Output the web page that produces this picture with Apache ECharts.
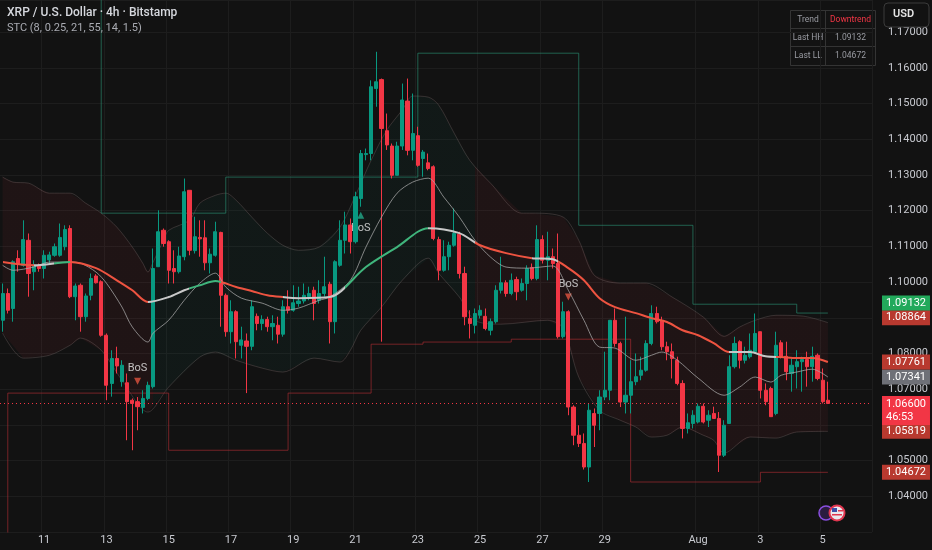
<!DOCTYPE html>
<html>
<head>
<meta charset="utf-8">
<script src="https://cdn.jsdelivr.net/npm/echarts@6/dist/echarts.min.js"></script>
<style>
  html, body { margin: 0; padding: 0; background: #121212; }
  #chart { width: 932px; height: 550px; }
</style>
</head>
<body>
<div id="chart"></div>
<script>
// XRP / USD, 4h candles, Jul 9 16:00 -> Aug 5 04:00
// rows: [open, high, low, close]
var candles = [
  [1.0893,1.0996,1.0861,1.0968],[1.0968,1.0982,1.0912,1.0921],[1.0926,1.1061,1.0889,1.1057],[1.1066,1.1089,1.1029,1.1052],
  [1.1047,1.1173,1.1043,1.1119],[1.1117,1.1136,1.0959,1.1024],[1.1029,1.1061,1.0977,1.1045],[1.1047,1.1052,1.1029,1.1038],
  [1.1038,1.1089,1.1010,1.1075],[1.1062,1.1085,1.1052,1.1076],[1.1075,1.1108,1.1071,1.1099],[1.1075,1.1164,1.1071,1.1125],
  [1.1099,1.1159,1.1089,1.1147],[1.1150,1.1159,1.0955,1.0959],[1.0959,1.0996,1.0893,1.0989],[1.0991,1.0996,1.0861,1.0903],
  [1.0903,1.0968,1.0889,1.0961],[1.0963,1.1024,1.0949,1.1010],[1.1017,1.1022,1.0996,1.0998],[1.1001,1.1005,1.0847,1.0851],
  [1.0851,1.0856,1.0669,1.0711],[1.0716,1.0809,1.0679,1.0786],[1.0786,1.0819,1.0744,1.0765],[1.0721,1.0781,1.0707,1.0767],
  [1.0718,1.0744,1.0557,1.0665],[1.0669,1.0674,1.0529,1.0660],[1.0665,1.0678,1.0585,1.0651],[1.0649,1.0697,1.0632,1.0674],
  [1.0674,1.0721,1.0669,1.0711],[1.0707,1.1094,1.0702,1.1038],[1.1043,1.1201,1.1043,1.1141],[1.1145,1.1150,1.1099,1.1108],
  [1.1113,1.1117,1.0996,1.1033],[1.1038,1.1089,1.0996,1.1029],[1.1029,1.1099,1.1024,1.1073],[1.1071,1.1290,1.1061,1.1253],
  [1.1257,1.1257,1.1075,1.1089],[1.1088,1.1183,1.1080,1.1127],[1.1125,1.1173,1.1071,1.1121],[1.1124,1.1173,1.1033,1.1054],
  [1.1054,1.1094,1.1024,1.1078],[1.1075,1.1169,1.1071,1.1141],[1.1139,1.1141,1.0875,1.0963],[1.0963,1.0968,1.0847,1.0861],
  [1.0861,1.0949,1.0828,1.0917],[1.0917,1.0921,1.0786,1.0833],[1.0823,1.0875,1.0786,1.0838],[1.0835,1.0856,1.0689,1.0820],
  [1.0820,1.0949,1.0809,1.0931],[1.0904,1.0912,1.0865,1.0884],[1.0884,1.0907,1.0865,1.0895],[1.0895,1.0903,1.0861,1.0875],
  [1.0875,1.0907,1.0837,1.0884],[1.0879,1.0903,1.0828,1.0854],[1.0854,1.0949,1.0847,1.0931],[1.0931,1.0977,1.0912,1.0921],
  [1.0921,1.0991,1.0917,1.0942],[1.0940,1.0987,1.0931,1.0947],[1.0947,1.0996,1.0940,1.0963],[1.0959,1.0987,1.0949,1.0968],
  [1.0977,1.0987,1.0893,1.0940],[1.0949,1.1005,1.0940,1.0968],[1.0968,1.1071,1.0959,1.0987],[1.0994,1.1001,1.0828,1.0889],
  [1.0889,1.1061,1.0856,1.1057],[1.1047,1.1173,1.1043,1.1117],[1.1117,1.1197,1.1080,1.1160],[1.1160,1.1178,1.1080,1.1113],
  [1.1113,1.1253,1.1108,1.1239],[1.1234,1.1370,1.1211,1.1360],[1.1357,1.1374,1.1341,1.1360],[1.1360,1.1565,1.1341,1.1547],
  [1.1542,1.1645,1.1491,1.1561],[1.1567,1.1570,1.0833,1.1430],[1.1424,1.1472,1.1370,1.1384],[1.1381,1.1388,1.1290,1.1299],
  [1.1299,1.1393,1.1299,1.1381],[1.1381,1.1556,1.1370,1.1510],[1.1507,1.1570,1.1355,1.1369],[1.1369,1.1528,1.1341,1.1416],
  [1.1410,1.1435,1.1323,1.1327],[1.1346,1.1370,1.1295,1.1364],[1.1334,1.1360,1.1313,1.1318],[1.1323,1.1327,1.1117,1.1122],
  [1.1119,1.1127,1.1005,1.1033],[1.1033,1.1117,1.1029,1.1071],[1.1071,1.1113,1.1033,1.1103],[1.1103,1.1206,1.1099,1.1136],
  [1.1134,1.1141,1.1010,1.1024],[1.1024,1.1043,1.0879,1.0903],[1.0898,1.0921,1.0842,1.0884],[1.0879,1.0926,1.0856,1.0912],
  [1.0907,1.0935,1.0898,1.0921],[1.0904,1.0926,1.0865,1.0870],[1.0865,1.0898,1.0851,1.0889],[1.0889,1.0991,1.0884,1.0977],
  [1.0977,1.1071,1.0968,1.0998],[1.0998,1.1005,1.0959,1.0968],[1.0968,1.1024,1.0963,1.1005],[1.1007,1.1015,1.0949,1.0973],
  [1.0977,1.1010,1.0973,1.0996],[1.0996,1.1047,1.0949,1.1038],[1.1041,1.1052,1.1005,1.1010],[1.1010,1.1159,1.1005,1.1119],
  [1.1119,1.1131,1.1052,1.1061],[1.1061,1.1141,1.1005,1.1071],[1.1071,1.1094,1.1038,1.1052],[1.1052,1.1136,1.0842,1.0847],
  [1.0847,1.0945,1.0842,1.0917],[1.0917,1.0921,1.0627,1.0650],[1.0650,1.0655,1.0543,1.0571],[1.0571,1.0599,1.0538,1.0548],
  [1.0548,1.0576,1.0475,1.0482],[1.0482,1.0660,1.0440,1.0641],[1.0632,1.0646,1.0538,1.0599],[1.0632,1.0697,1.0585,1.0678],
  [1.0678,1.0805,1.0669,1.0697],[1.0697,1.0893,1.0669,1.0893],[1.0893,1.0926,1.0819,1.0828],[1.0828,1.0833,1.0650,1.0664],
  [1.0664,1.0903,1.0632,1.0683],[1.0683,1.0781,1.0632,1.0721],[1.0721,1.0800,1.0711,1.0735],[1.0739,1.0791,1.0725,1.0753],
  [1.0753,1.0837,1.0749,1.0828],[1.0828,1.0935,1.0823,1.0912],[1.0912,1.0931,1.0884,1.0889],[1.0891,1.0903,1.0809,1.0819],
  [1.0819,1.0833,1.0781,1.0805],[1.0805,1.0828,1.0730,1.0786],[1.0781,1.0791,1.0711,1.0716],[1.0716,1.0725,1.0562,1.0590],
  [1.0590,1.0632,1.0576,1.0606],[1.0604,1.0641,1.0590,1.0627],[1.0608,1.0660,1.0604,1.0652],[1.0652,1.0660,1.0604,1.0608],
  [1.0613,1.0641,1.0594,1.0627],[1.0632,1.0651,1.0618,1.0618],[1.0618,1.0636,1.0468,1.0515],[1.0515,1.0613,1.0510,1.0599],
  [1.0604,1.0795,1.0604,1.0763],[1.0763,1.0847,1.0758,1.0828],[1.0833,1.0837,1.0758,1.0781],[1.0781,1.0819,1.0772,1.0795],
  [1.0791,1.0856,1.0786,1.0809],[1.0805,1.0912,1.0800,1.0856],[1.0861,1.0861,1.0674,1.0697],[1.0697,1.0716,1.0655,1.0665],
  [1.0702,1.0707,1.0623,1.0623],[1.0632,1.0861,1.0627,1.0823],[1.0830,1.0837,1.0786,1.0791],[1.0792,1.0833,1.0725,1.0749],
  [1.0744,1.0786,1.0693,1.0767],[1.0763,1.0809,1.0702,1.0777],[1.0777,1.0791,1.0693,1.0783],[1.0783,1.0805,1.0707,1.0763],
  [1.0763,1.0819,1.0721,1.0792],[1.0795,1.0800,1.0725,1.0730],[1.0725,1.0758,1.0660,1.0665],[1.0669,1.0721,1.0660,1.06600]
];

// indicator lines, read at sample candles: [candle index, price]
var slowMa = [[0,1.1056],[6,1.1047],[13,1.1056],[18,1.1039],[22,1.1005],[25,1.0977],[28,1.0944],[32,1.0958],[35,1.0977],
  [38,1.0991],[41,1.1003],[45,1.0986],[48,1.0975],[51,1.0963],[54,1.0958],[57,1.0955],[63,1.0958],[70,1.1042],[76,1.1098],
  [82,1.1151],[88,1.1137],[92,1.1103],[97,1.1081],[102,1.1067],[106,1.1064],[109,1.1039],[112,1.1005],[115,1.0955],
  [118,1.0930],[122,1.0913],[125,1.0899],[128,1.0888],[131,1.0865],[134,1.0851],[137,1.0829],[140,1.0804],[144,1.0804],
  [147,1.0792],[150,1.0790],[153,1.0787],[156,1.0787],[159,1.07761]];
var fastMa = [[0,1.1047],[2,1.1033],[6,1.1042],[9,1.1056],[13,1.1056],[15,1.1053],[18,1.1028],[20,1.0997],[23,1.0930],
  [25,1.0874],[28,1.0832],[29,1.0857],[32,1.0893],[35,1.0949],[38,1.0997],[41,1.1025],[43,1.0986],[46,1.0955],[50,1.0941],
  [54,1.0921],[57,1.0927],[61,1.0949],[63,1.0958],[67,1.1005],[70,1.1098],[73,1.1182],[76,1.1249],[79,1.1280],[82,1.1291],
  [85,1.1238],[88,1.1182],[91,1.1117],[94,1.1070],[97,1.1042],[101,1.1039],[106,1.1045],[109,1.0977],[112,1.0893],
  [115,1.0818],[118,1.0815],[122,1.0781],[125,1.0795],[127,1.0804],[130,1.0781],[134,1.0731],[139,1.0683],[142,1.0706],
  [145,1.0734],[148,1.0720],[150,1.0739],[153,1.0748],[156,1.0756],[159,1.07341]];
var upperBand = [[0,1.1294],[2,1.1280],[5,1.1277],[9,1.1249],[13,1.1249],[16,1.1221],[19,1.1193],[22,1.1154],[25,1.1098],
  [27,1.1053],[28,1.1028],[29,1.1056],[31,1.1117],[32,1.1145],[36,1.1173],[38,1.1221],[41,1.1243],[43,1.1249],[45,1.1229],
  [48,1.1182],[51,1.1137],[54,1.1103],[57,1.1089],[61,1.1098],[65,1.1154],[68,1.1243],[71,1.1341],[74,1.1425],[77,1.1482],
  [79,1.1521],[82,1.1518],[84,1.1496],[87,1.1417],[90,1.1341],[94,1.1277],[100,1.1193],[102,1.1193],[108,1.1182],
  [111,1.1117],[114,1.1019],[119,1.0997],[124,1.0997],[129,1.0958],[135,1.0902],[139,1.0848],[142,1.0874],[145,1.0893],
  [149,1.0907],[154,1.0905],[159,1.08864]];
var lowerBand = [[0,1.0857],[4,1.0787],[9,1.0795],[13,1.0823],[15,1.0843],[19,1.0809],[23,1.0725],[28,1.0636],[32,1.0706],
  [38,1.0790],[41,1.0804],[45,1.0781],[50,1.0759],[54,1.0748],[60,1.0787],[65,1.0776],[67,1.0809],[69,1.0865],[73,1.0930],
  [77,1.1005],[82,1.1067],[84,1.1025],[88,1.0958],[91,1.0893],[96,1.0882],[105,1.0893],[108,1.0871],[111,1.0734],
  [115,1.0641],[119,1.0613],[122,1.0594],[125,1.0566],[128,1.0571],[131,1.0594],[135,1.0571],[137,1.0557],[139,1.0521],
  [144,1.0566],[149,1.0563],[153,1.0580],[159,1.05819]];
// swing levels (step lines)
var lastHH = [[0,1.1900],[19,1.1193],[43,1.1294],[80,1.1641],[111,1.1159],[133,1.0938],[153,1.09132],[159,1.09132]];
var lastLL = [[0,1.0200],[1,1.0689],[32,1.0529],[55,1.0689],[71,1.0826],[81,1.0832],[98,1.0840],[121,1.0440],[146,1.04672],[159,1.04672]];
var bosDown = [[26,1.0722],[109,1.0958]];
var bosUp = [[69,1.1187]];
// trend colouring of the slow line: [from, to, state]
var trendRuns = [[0,6,'down'],[6,10,'flat'],[10,13,'up'],[13,28,'down'],[28,36,'flat'],[36,42,'up'],[42,54,'down'],
  [54,66,'flat'],[66,82,'up'],[82,91,'flat'],[91,102,'down'],[102,107,'flat'],[107,140,'down'],[140,149,'flat'],[149,160,'down']];
var bandRuns = [[0,28.5,'down'],[28.5,90.5,'up'],[90.5,159,'down']];

var tickIdx = [8,20,32,44,56,68,80,92,104,116,134,146,158];
var tickText = ['11','13','15','17','19','21','23','25','27','29','Aug','3','5'];
var slotCount = 168;
var countdown = '46:53';

var RED = '#f23645', GREEN = '#089981';
var FONT = 'Roboto, "Noto Sans", sans-serif';

var cats = [];
for (var i = 0; i < slotCount; i++) cats.push('');
tickIdx.forEach(function (k, j) { cats[k] = tickText[j]; });

var kData = candles.map(function (c) { return [c[0], c[3], c[2], c[1]]; });
var lastClose = candles[candles.length - 1][3];
function last(arr) { return arr[arr.length - 1][1]; }

var trendColor = { down: '#ee5340', up: '#3fb57c', flat: '#c8c8c8' };
var bandColor = { down: 'rgba(242,54,69,0.06)', up: 'rgba(8,153,129,0.05)' };

function isTick(index) { return tickIdx.indexOf(index) >= 0; }

function priceTag(value, bg, dy) {
    return {
        silent: true,
        precision: 5,
        symbol: ['none', 'none'],
        lineStyle: { color: 'rgba(0,0,0,0)', width: 1, type: 'solid' },
        label: {
            show: true, position: 'end', distance: 10,
            formatter: value.toFixed(5),
            backgroundColor: bg, color: '#ffffff', padding: [2, 4, 1, 4],
            fontSize: 11, fontFamily: FONT, lineHeight: 12, offset: [0, dy]
        },
        emphasis: { disabled: true },
        data: [{ yAxis: value }]
    };
}

function renderBandFill(params, api) {
    var pts = upperBand.map(function (d) { return api.coord(d); });
    var low = lowerBand.map(function (d) { return api.coord(d); }).reverse();
    var x0 = api.coord([0, 1.1])[0];
    var x1 = api.coord([159, 1.1])[0];
    var stops = [];
    bandRuns.forEach(function (r) {
        var a = (api.coord([r[0], 1.1])[0] - x0) / (x1 - x0);
        var b = (api.coord([r[1], 1.1])[0] - x0) / (x1 - x0);
        stops.push({ offset: Math.max(0, a), color: bandColor[r[2]] });
        stops.push({ offset: Math.min(1, b), color: bandColor[r[2]] });
    });
    return {
        type: 'polygon',
        shape: { points: pts.concat(low) },
        style: { fill: new echarts.graphic.LinearGradient(x0, 0, x1, 0, stops, true) }
    };
}

var chart = echarts.init(document.getElementById('chart'));

var option = {
    backgroundColor: '#121212',
    animation: false,
    textStyle: { fontFamily: FONT },
    grid: { left: 0, right: 60, top: 0, bottom: 18 },
    xAxis: {
        type: 'category',
        data: cats,
        boundaryGap: true,
        axisLine: { show: false },
        axisTick: { show: false },
        axisLabel: { interval: isTick, color: '#c8cad0', fontSize: 11, margin: 3, fontFamily: FONT },
        splitLine: { show: true, interval: isTick, lineStyle: { color: '#1d1d1d', width: 1 } }
    },
    yAxis: {
        type: 'value',
        position: 'right',
        min: 1.03,
        max: 1.179,
        interval: 0.01,
        axisLine: { show: false },
        axisTick: { show: false },
        axisLabel: {
            color: '#c8cad0', fontSize: 11, margin: 16, fontFamily: FONT,
            showMinLabel: false, showMaxLabel: false,
            formatter: function (v) { return v.toFixed(5); }
        },
        splitLine: { lineStyle: { color: '#1d1d1d', width: 1 } }
    },
    visualMap: {
        type: 'piecewise',
        show: false,
        dimension: 0,
        seriesIndex: 9,
        pieces: trendRuns.map(function (r) {
            return { gte: r[0], lt: r[1], color: trendColor[r[2]] };
        })
    },
    series: [
        {
            type: 'custom', z: 1, silent: true, clip: true,
            renderItem: renderBandFill,
            data: [[0, 1.1]]
        },
        {
            type: 'line', z: 1, data: upperBand, symbol: 'none', smooth: 0.3, silent: true,
            lineStyle: { color: 'rgba(150,130,130,0.28)', width: 1 },
            markLine: priceTag(last(upperBand), '#b8392f', -5)
        },
        {
            type: 'line', z: 1, data: lowerBand, symbol: 'none', smooth: 0.3, silent: true,
            lineStyle: { color: 'rgba(150,130,130,0.28)', width: 1 },
            markLine: priceTag(last(lowerBand), '#b8392f', 0)
        },
        {
            type: 'line', z: 2, data: lastHH, step: 'end', symbol: 'none', silent: true,
            lineStyle: { color: 'rgba(44,150,120,0.6)', width: 1 },
            markLine: priceTag(last(lastHH), '#22a95b', -10)
        },
        {
            type: 'line', z: 2, data: lastLL, step: 'end', symbol: 'none', silent: true,
            lineStyle: { color: 'rgba(170,45,50,0.65)', width: 1 },
            markLine: priceTag(last(lastLL), '#b8392f', 0)
        },
        {
            type: 'scatter', z: 2, data: bosDown, symbol: 'triangle', symbolRotate: 180, symbolSize: 7,
            itemStyle: { color: '#e0523f' }, silent: true,
            label: { show: true, formatter: 'BoS', position: 'top', distance: 4, color: '#e8e8e8', fontSize: 11 }
        },
        {
            type: 'scatter', z: 2, data: bosUp, symbol: 'triangle', symbolSize: 7,
            itemStyle: { color: '#22a98a' }, silent: true,
            label: { show: true, formatter: 'BoS', position: 'bottom', distance: 4, color: '#e8e8e8', fontSize: 11 }
        },
        {
            type: 'candlestick', z: 3,
            data: kData,
            barWidth: 3.6,
            itemStyle: { color: GREEN, color0: RED, borderColor: GREEN, borderColor0: RED, borderWidth: 1 },
            markLine: {
                silent: true,
                precision: 5,
                symbol: ['none', 'none'],
                lineStyle: { color: RED, type: [1, 3], width: 1 },
                label: {
                    show: true, position: 'end', distance: 10,
                    formatter: lastClose.toFixed(5) + '\n' + countdown,
                    backgroundColor: RED, color: '#fff', padding: [2, 4, 1, 4],
                    fontSize: 11, lineHeight: 13, fontFamily: FONT, offset: [0, 7]
                },
                data: [{ yAxis: lastClose }]
            }
        },
        {
            type: 'line', z: 4, data: fastMa, symbol: 'none', smooth: 0.3, silent: true,
            lineStyle: { color: 'rgba(170,170,170,0.75)', width: 1 },
            markLine: priceTag(last(fastMa), '#6e7077', 0)
        },
        {
            type: 'line', z: 5, data: slowMa, symbol: 'none', smooth: 0.3, silent: true,
            lineStyle: { width: 2 },
            markLine: priceTag(last(slowMa), '#b8392f', 0)
        }
    ],
    graphic: [
        { type: 'text', left: 7, top: 7, z: 10,
          style: { text: 'XRP / U.S. Dollar \u00b7 4h \u00b7 Bitstamp', fill: '#d6d8de', font: '500 12px ' + FONT } },
        { type: 'text', left: 7, top: 23, z: 10,
          style: { text: 'STC (8, 0.25, 21, 55, 14, 1.5)', fill: '#a9abb2', font: '11px ' + FONT } },
        { type: 'rect', z: 10, shape: { x: 884, y: 3, width: 45, height: 24, r: 4 },
          style: { fill: '#121212', stroke: '#3a3a3a', lineWidth: 1 } },
        { type: 'text', z: 11, left: 893, top: 9,
          style: { text: 'USD', fill: '#e6e6e6', font: '600 11px ' + FONT } },
        {
            type: 'group', z: 10, left: 788, top: 8,
            children: [
                { type: 'rect', shape: { x: 0, y: 0, width: 85, height: 55 },
                  style: { fill: '#131313', stroke: '#343434', lineWidth: 1 } },
                { type: 'line', shape: { x1: 35, y1: 0, x2: 35, y2: 55 }, style: { stroke: '#343434' } },
                { type: 'line', shape: { x1: 0, y1: 18, x2: 85, y2: 18 }, style: { stroke: '#343434' } },
                { type: 'line', shape: { x1: 0, y1: 36, x2: 85, y2: 36 }, style: { stroke: '#343434' } },
                { type: 'text', x: 17.5, y: 9, style: { text: 'Trend', fill: '#9a9ca3', font: '8.5px ' + FONT, align: 'center', verticalAlign: 'middle' } },
                { type: 'text', x: 60, y: 9, style: { text: 'Downtrend', fill: RED, font: '8.5px ' + FONT, align: 'center', verticalAlign: 'middle' } },
                { type: 'text', x: 17.5, y: 27, style: { text: 'Last HH', fill: '#9a9ca3', font: '8.5px ' + FONT, align: 'center', verticalAlign: 'middle' } },
                { type: 'text', x: 60, y: 27, style: { text: last(lastHH).toFixed(5), fill: '#9a9ca3', font: '8.5px ' + FONT, align: 'center', verticalAlign: 'middle' } },
                { type: 'text', x: 17.5, y: 45.5, style: { text: 'Last LL', fill: '#9a9ca3', font: '8.5px ' + FONT, align: 'center', verticalAlign: 'middle' } },
                { type: 'text', x: 60, y: 45.5, style: { text: last(lastLL).toFixed(5), fill: '#9a9ca3', font: '8.5px ' + FONT, align: 'center', verticalAlign: 'middle' } }
            ]
        },
        // event icons near the time axis
        { type: 'circle', z: 10, shape: { cx: 826, cy: 513, r: 7 },
          style: { fill: 'rgba(120,60,200,0.25)', stroke: '#8a4fe0', lineWidth: 1.5 } },
        { type: 'circle', z: 11, shape: { cx: 837, cy: 513, r: 7.5 },
          style: { fill: '#e9e9ee', stroke: '#e0364f', lineWidth: 2 } },
        { type: 'rect', z: 12, shape: { x: 832, y: 508, width: 5, height: 4 }, style: { fill: '#3a4ea8' } },
        { type: 'rect', z: 12, shape: { x: 832, y: 514, width: 10, height: 1.5 }, style: { fill: '#e0364f' } },
        { type: 'rect', z: 12, shape: { x: 838, y: 510, width: 5, height: 1.5 }, style: { fill: '#e0364f' } }
    ]
};

chart.setOption(option);
</script>
</body>
</html>
